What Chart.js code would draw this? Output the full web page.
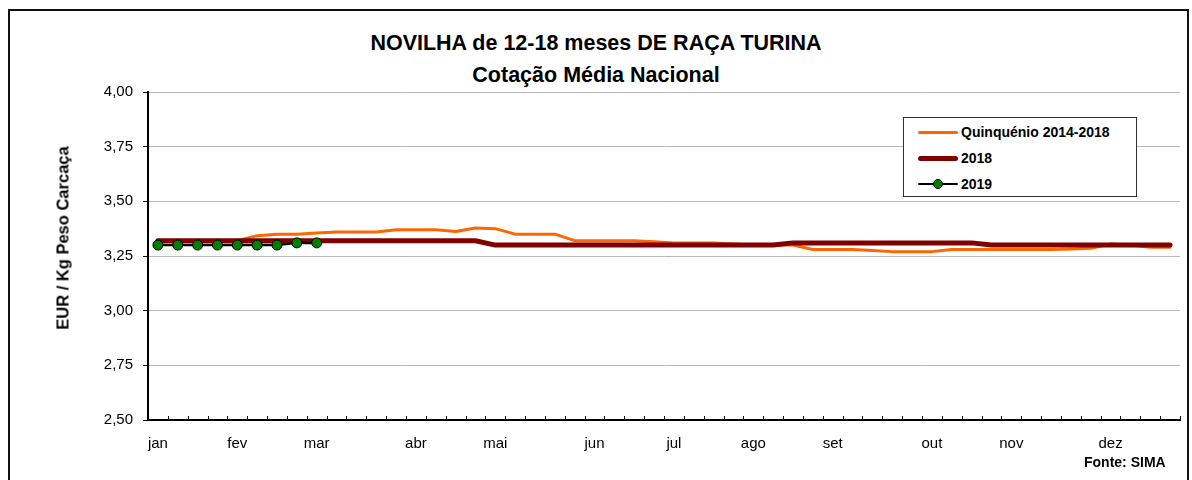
<!DOCTYPE html>
<html>
<head>
<meta charset="utf-8">
<script src="https://cdn.jsdelivr.net/npm/chart.js@4/dist/chart.umd.min.js"></script>
<style>
  html, body { margin: 0; padding: 0; background: #fff; }
  body { width: 1192px; height: 480px; position: relative; overflow: hidden; font-family: "Liberation Sans", Arial, sans-serif; }
  #frame { position: absolute; left: 8px; top: 9px; width: 1177px; height: 480px; border: 2px solid #111; }
  #title { position: absolute; left: 0; width: 1192px; top: 27px; text-align: center; font-weight: bold; font-size: 21.5px; line-height: 32px; color: #000; }
  #ytitle { position: absolute; left: 63px; top: 238px; transform: translate(-50%, -50%) rotate(-90deg); white-space: nowrap; font-weight: bold; font-size: 16.5px; color: #000; }
  #wrap { position: absolute; left: 0; top: 0; width: 1192px; height: 480px; }
  #legend { position: absolute; left: 903px; top: 117px; width: 232px; height: 78px; border: 1px solid #333; background: #fff; }
  .row { position: absolute; left: 14px; height: 20px; font-weight: bold; font-size: 14px; line-height: 20px; }
  .row .sample { position: absolute; left: 0; top: 10px; width: 40px; border-radius: 3px; }
  .row span { position: absolute; left: 43px; top: 0; white-space: nowrap; }
  .dot { position: absolute; left: 15px; top: -5px; width: 10px; height: 10px; border-radius: 50%; background: #008000; border: 1px solid #000; box-sizing: border-box; }
  #fonte { position: absolute; left: 1084px; top: 454px; font-weight: bold; font-size: 14px; }
</style>
</head>
<body>
<div id="frame"></div>
<div id="title">NOVILHA de 12-18 meses DE RAÇA TURINA<br>Cotação Média Nacional</div>
<div id="wrap"><canvas id="chart" width="1192" height="480"></canvas></div>
<div id="ytitle">EUR / Kg Peso Carcaça</div>
<div id="legend"></div>
<div id="fonte">Fonte: SIMA</div>
<script>
// 52 weeks, month names on the first week of each month
const monthLabels = ['jan','fev','mar','abr','mai','jun','jul','ago','set','out','nov','dez'];
const monthWeek = [0, 4, 8, 13, 17, 22, 26, 30, 34, 39, 43, 48];

const quinquenio = [
  3.32, 3.32, 3.32, 3.32, 3.32, 3.343, 3.35, 3.35, 3.355, 3.36,
  3.36, 3.36, 3.37, 3.37, 3.37, 3.362, 3.378, 3.375, 3.35, 3.35,
  3.35, 3.32, 3.32, 3.32, 3.32, 3.315, 3.31, 3.31, 3.31, 3.305,
  3.30, 3.30, 3.30, 3.28, 3.28, 3.28, 3.275, 3.27, 3.27, 3.27,
  3.28, 3.28, 3.28, 3.28, 3.28, 3.28, 3.282, 3.285, 3.305, 3.30,
  3.29, 3.29
];
const y2018 = [
  3.32, 3.32, 3.32, 3.32, 3.32, 3.32, 3.32, 3.32, 3.32, 3.32,
  3.32, 3.32, 3.32, 3.32, 3.32, 3.32, 3.32, 3.30, 3.30, 3.30,
  3.30, 3.30, 3.30, 3.30, 3.30, 3.30, 3.30, 3.30, 3.30, 3.30,
  3.30, 3.30, 3.31, 3.31, 3.31, 3.31, 3.31, 3.31, 3.31, 3.31,
  3.31, 3.31, 3.30, 3.30, 3.30, 3.30, 3.30, 3.30, 3.30, 3.30,
  3.30, 3.30
];
const y2019 = [3.30, 3.30, 3.30, 3.30, 3.30, 3.30, 3.30, 3.31, 3.31];

const weeks = [];
for (let i = 0; i < 52; i++) {
  const m = monthWeek.indexOf(i);
  weeks.push(m >= 0 ? monthLabels[m] : '');
}

/* tick marks pointing up into the plot, between categories */
const innerTicks = {
  id: 'innerTicks',
  afterDraw(chart) {
    const xs = chart.scales.x;
    const ctx = chart.ctx;
    const step = xs.getPixelForValue(1) - xs.getPixelForValue(0);
    const bottom = chart.chartArea.bottom;
    ctx.save();
    ctx.strokeStyle = '#000';
    ctx.lineWidth = 1;
    for (let i = 1; i <= weeks.length; i++) {
      const x = Math.round(xs.getPixelForValue(i) - step / 2) + 0.5;
      ctx.beginPath();
      ctx.moveTo(x, bottom);
      ctx.lineTo(x, bottom - 4);
      ctx.stroke();
    }
    ctx.restore();
  }
};

const ctx = document.getElementById('chart').getContext('2d');
const chart = new Chart(ctx, {
  type: 'line',
  data: {
    labels: weeks,
    datasets: [
      { label: 'Quinquénio 2014-2018', data: quinquenio, borderColor: '#ff6600', borderWidth: 3, pointRadius: 0, order: 3 },
      { label: '2018', data: y2018, borderColor: '#800000', borderWidth: 5, pointRadius: 0, order: 2 },
      { label: '2019', data: y2019, borderColor: '#000', borderWidth: 2.5, pointRadius: 5, pointBackgroundColor: '#008000', pointBorderColor: '#000', pointBorderWidth: 1, order: 1 }
    ]
  },
  options: {
    responsive: false,
    animation: false,
    layout: { padding: { left: 0, top: 92, right: 12, bottom: 0 } },
    elements: { line: { tension: 0, borderCapStyle: 'round', borderJoinStyle: 'round' } },
    plugins: { legend: { display: false }, tooltip: { enabled: false }, title: { display: false } },
    scales: {
      x: {
        offset: true,
        grid: { display: false },
        border: { display: true, color: '#000', width: 2 },
        ticks: { autoSkip: false, maxRotation: 0, padding: 7, color: '#000', font: { family: '"Liberation Sans", Arial', size: 15 } },
        afterFit(s) { s.height = 60; }
      },
      y: {
        min: 2.5, max: 4.0,
        grid: { color: '#b8b8b8', borderDash: [2, 2], tickLength: 5, tickColor: '#000', tickBorderDash: [] },
        border: { display: true, color: '#000', width: 2, dash: [] },
        ticks: {
          stepSize: 0.25, padding: 10, color: '#000',
          font: { family: '"Liberation Sans", Arial', size: 15 },
          callback: v => v.toFixed(2).replace('.', ',')
        },
        afterFit(s) { s.width = 148; }
      }
    }
  },
  plugins: [innerTicks]
});

/* legend box */
(function(){
  const box = document.getElementById('legend');
  const tops = [4, 30, 56];
  chart.data.datasets.forEach(function(ds, i){
    const row = document.createElement('div');
    row.className = 'row';
    row.style.top = tops[i] + 'px';
    const s = document.createElement('div');
    s.className = 'sample';
    s.style.height = ds.borderWidth + 'px';
    s.style.marginTop = (-ds.borderWidth / 2) + 'px';
    s.style.background = ds.borderColor;
    row.appendChild(s);
    if (ds.pointRadius > 0) {
      const d = document.createElement('div');
      d.className = 'dot';
      s.appendChild(d);
      d.style.top = (ds.borderWidth / 2 - 5) + 'px';
    }
    const t = document.createElement('span');
    t.textContent = ds.label;
    row.appendChild(t);
    box.appendChild(row);
  });
})();
</script>
</body>
</html>
